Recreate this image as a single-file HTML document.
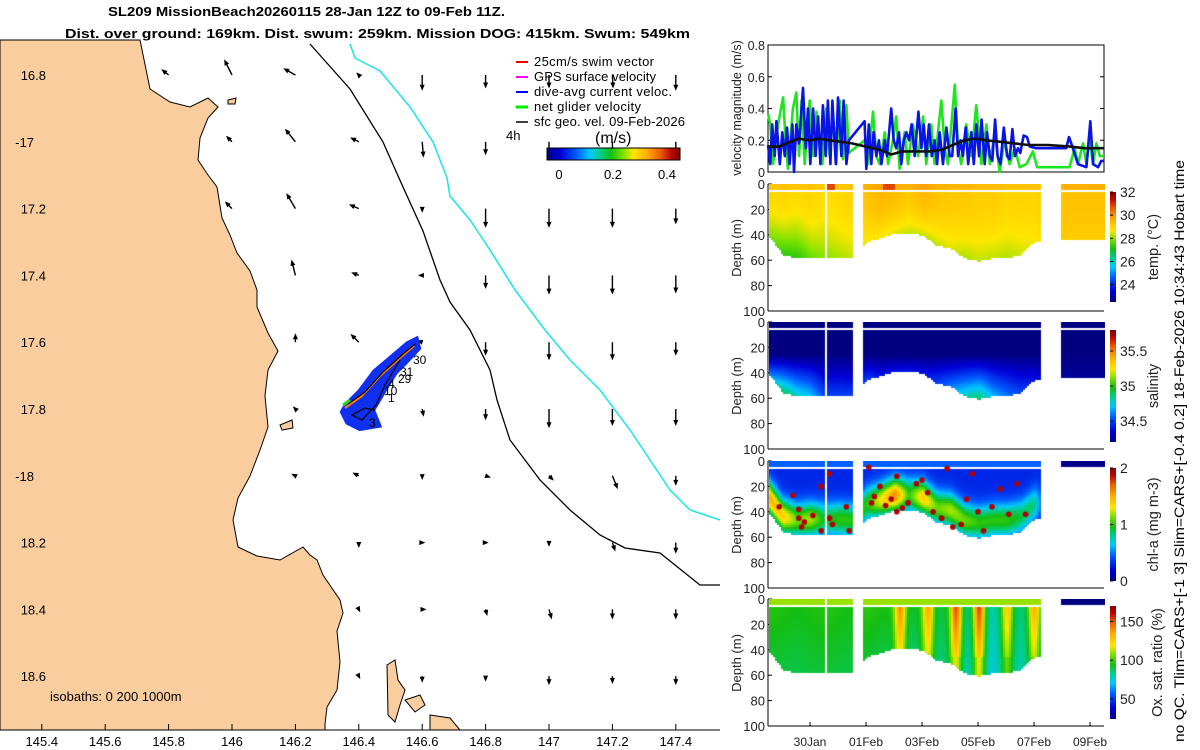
<!DOCTYPE html>
<html><head><meta charset="utf-8">
<style>
html,body{margin:0;padding:0;background:#fff;}
#wrap{position:relative;width:1200px;height:750px;overflow:hidden;font-family:"Liberation Sans","DejaVu Sans",sans-serif;}
svg{position:absolute;left:0;top:0;}
canvas{position:absolute;}
</style></head>
<body>
<div id="wrap">
<svg id="map" width="1200" height="750" font-family="Liberation Sans, DejaVu Sans, sans-serif">
  <rect x="0" y="40" width="720" height="690" fill="#fff"/>
  <path fill="#f9cd9e" stroke="#000" stroke-width="1"
   d="M0,40 L140,40 L150,89 L170,102 L190,107 L208,98 L218,107 L208,118 L200,138 L198,160 L208,175 L217,187 L222,218 L230,235 L237,253 L250,271 L257,290 L257,307 L268,333 L278,351 L268,370 L265,396 L268,427 L260,450 L250,476 L238,498 L233,520 L238,547 L257,556 L280,560 L303,547 L310,555 L317,560 L323,575 L340,600 L343,613 L337,631 L340,662 L337,690 L327,707 L325,724 L325,730 L0,730 Z"/>
  <path fill="#f9cd9e" stroke="#000" stroke-width="1"
   d="M387,665 L395,660 L398,680 L405,690 L400,705 L395,722 L388,715 Z M405,700 L420,695 L425,705 L415,712 Z M430,715 L450,718 L460,730 L430,730 Z M280,425 L292,420 L293,428 L282,430 Z M228,100 L236,98 L235,104 L228,104 Z"/>
  <polyline fill="none" stroke="#000" stroke-width="1.3"
   points="310,44 350,89 383,142 403,187 423,231 440,280 450,302 470,330 490,370 497,400 510,440 540,480 570,510 600,535 625,548 660,553 700,585 720,585"/>
  <polyline fill="none" stroke="#19e6e6" stroke-width="1.5"
   points="350,44 355,58 380,71 410,107 433,142 447,178 450,196 470,220 490,250 515,290 545,330 570,360 600,390 630,430 650,460 670,490 690,510 720,520"/>
  <g id="arrows"></g>
  <g>
    <path d="M347,405 L360,392 L375,372 L395,355 L408,344 L416,340 L418,348 L405,362 L395,372 L385,388 L378,400 L372,410 L378,425 L360,428 L348,422 L343,412 Z" fill="#1030f0" stroke="#1030f0" stroke-width="6"/>
    <polyline points="345,408 362,396 380,376 400,358 414,346" fill="none" stroke="#ff8000" stroke-width="2"/>
    <polyline points="348,404 365,392 383,372 403,354 415,344" fill="none" stroke="#000" stroke-width="1.2"/>
    <polyline points="400,360 385,385 376,405 362,420 352,415 365,408 375,410" fill="none" stroke="#000" stroke-width="1.2"/>
    <polyline points="343,405 350,400" fill="none" stroke="#2ad62a" stroke-width="3"/>
  </g>
  <g font-size="12" fill="#000">
    <text x="413" y="364">30</text><text x="400" y="376">31</text><text x="398" y="383">29</text>
    <text x="388" y="388">4</text><text x="384" y="395">10</text><text x="388" y="402">1</text><text x="369" y="427">3</text>
  </g>
  <g font-size="13" fill="#000">
    <line x1="516" y1="62" x2="528" y2="62" stroke="#e00" stroke-width="2"/><text x="534" y="66" textLength="120">25cm/s swim vector</text>
    <line x1="516" y1="77" x2="528" y2="77" stroke="#f0f" stroke-width="2"/><text x="534" y="81" textLength="122">GPS surface velocity</text>
    <line x1="516" y1="92" x2="528" y2="92" stroke="#00f" stroke-width="2"/><text x="534" y="96" textLength="138">dive-avg current veloc.</text>
    <line x1="516" y1="107" x2="528" y2="107" stroke="#0e0" stroke-width="3"/><text x="534" y="111" textLength="107">net glider velocity</text>
    <line x1="516" y1="122" x2="528" y2="122" stroke="#000" stroke-width="1.5"/><text x="534" y="126" textLength="151">sfc geo. vel. 09-Feb-2026</text>
    <text x="506" y="140" font-size="13">4h</text>
    <text x="595" y="143" font-size="16">(m/s)</text>
  </g>
  <defs>
    <linearGradient id="jetH" x1="0" x2="1" y1="0" y2="0"></linearGradient>
    <linearGradient id="jetV" x1="0" x2="0" y1="1" y2="0"></linearGradient>
  </defs>
  <g>
    <rect x="547" y="148" width="133" height="12" fill="url(#jetH)" stroke="#000" stroke-width="1"/>
    <g font-size="13" text-anchor="middle"><text x="559" y="179">0</text><text x="613" y="179">0.2</text><text x="667" y="179">0.4</text></g>
  </g>
  <text x="50" y="701" font-size="13">isobaths: 0   200  1000m</text>
  <g id="mapaxes" font-size="13" fill="#000">
    <line x1="0" y1="730" x2="720" y2="730" stroke="#000"/>
  </g>
  <g font-size="13" font-weight="bold">
    <text x="108" y="16" textLength="397" lengthAdjust="spacingAndGlyphs">SL209 MissionBeach20260115 28-Jan 12Z to 09-Feb 11Z.</text>
    <text x="65" y="38" textLength="625" lengthAdjust="spacingAndGlyphs">Dist. over ground: 169km. Dist. swum: 259km. Mission DOG: 415km. Swum: 549km</text>
  </g>
  <g id="right" font-size="13" fill="#222"></g>
  <text transform="translate(1184,451) rotate(-90)" text-anchor="middle" font-size="14" textLength="582" lengthAdjust="spacingAndGlyphs">no QC. Tlim=CARS+[-1 3] Slim=CARS+[-0.4 0.2] 18-Feb-2026 10:34:43 Hobart time</text>
</svg>
<canvas id="c0" width="336" height="128" style="left:769px;top:184px"></canvas>
<canvas id="c1" width="336" height="128" style="left:769px;top:322px"></canvas>
<canvas id="c2" width="336" height="128" style="left:769px;top:461px"></canvas>
<canvas id="c3" width="336" height="128" style="left:769px;top:599px"></canvas>
</div>
<script>
// ---------- map data ----------
const arrowLons = [145.8,146.0,146.2,146.4,146.6,146.8,147.0,147.2,147.4];
const arrowLats = [-16.8,-17.0,-17.2,-17.4,-17.6,-17.8,-18.0,-18.2,-18.4,-18.6];
const arrowU = [
 [-0.05,-0.06,-0.09,-0.01,0,0,0,0.005,0],
 [0,-0.04,-0.08,-0.06,0.01,0,0,0,0],
 [0,-0.05,-0.07,-0.07,0,0,0,0,0],
 [0,0,-0.03,-0.05,-0.02,0,0,0,0],
 [0,0,0,-0.06,-0.03,0,0,0,0],
 [0,0,-0.01,-0.01,0.01,0,0,0,0],
 [0,0,-0.02,-0.04,0,0.03,0.03,0.04,0],
 [0,0,0,0,0.01,0.01,0,0.02,0],
 [0,0,0,0.005,0.02,0.01,0.02,0,0],
 [0,0,0,0.005,0,0,0,0,0]];
const arrowV = [
 [0.04,0.12,0.05,0.01,-0.12,-0.1,-0.1,-0.1,-0.12],
 [0,0.04,0.1,0.03,-0.12,-0.1,-0.12,-0.12,-0.13],
 [0,0.05,0.12,0.03,-0.02,-0.15,-0.15,-0.15,-0.12],
 [0,0,0.12,0.02,0,-0.1,-0.15,-0.15,-0.14],
 [0,0,0.06,0.06,0.01,-0.1,-0.14,-0.14,-0.1],
 [0,0,0.01,0.01,-0.05,-0.08,-0.15,-0.13,-0.13],
 [0,0,0.01,0.02,-0.02,-0.01,-0.03,-0.1,-0.07],
 [0,0,0,-0.03,0,0,-0.02,-0.06,-0.08],
 [0,0,0,-0.01,0,-0.04,-0.07,-0.07,-0.07],
 [0,0,0,-0.01,-0.04,-0.03,-0.06,-0.05,-0.06]];
const lonTicks = [145.4,145.6,145.8,146,146.2,146.4,146.6,146.8,147,147.2,147.4];
const latTicks = [-16.8,-17,-17.2,-17.4,-17.6,-17.8,-18,-18.2,-18.4,-18.6];
const latTickLabels = ["16.8","-17","17.2","17.4","17.6","17.8","-18","18.2","18.4","18.6"];

// ---------- velocity data ----------
const blueDays = [0,.08,.15,.24,.30,.42,.51,.60,.68,.77,.87,.93,1.01,1.11,1.25,1.35,1.43,1.51,1.61,1.70,1.79,1.87,1.96,2.06,2.14,2.23,2.30,2.42,2.50,2.62,2.70,2.80,2.89,3.45,3.51,3.60,3.69,3.77,3.87,3.96,4.05,4.17,4.25,4.40,4.49,4.58,4.68,4.76,4.85,4.94,5.04,5.13,5.24,5.37,5.48,5.56,5.65,5.75,5.85,5.95,6.04,6.13,6.25,6.37,6.49,6.58,6.70,6.79,6.87,6.96,7.06,7.15,7.26,7.35,7.44,7.54,7.63,7.74,7.82,7.92,8.01,8.11,8.20,8.30,8.42,8.54,8.63,8.73,8.82,8.93,9.01,9.13,9.25,9.35,9.58,10.65,10.75,10.89,11.07,11.37,11.51,11.61,11.79,11.90,12.0];
const blueVals = [.17,.05,.3,.1,.32,.05,.25,.1,.28,.05,.3,0,.3,.18,.53,.15,.4,.05,.4,.1,.35,.05,.42,.1,.45,.05,.45,.05,.47,.1,.45,.05,.2,.32,.02,.3,.05,.25,.1,.2,.05,.2,.1,.4,.2,.15,.25,.05,.2,.25,.2,.3,.1,.38,.15,.3,.1,.3,.1,.2,.05,.25,.05,.28,.1,.1,.4,.1,.2,.1,.28,.05,.25,.05,.3,.1,.33,.05,.25,.1,.07,.33,.1,.05,.28,.1,.08,.27,.1,.15,.12,.23,.22,.16,.15,.15,.22,.15,.05,.03,.32,.05,.03,.07,.07];
const greenDays = [0,.08,.18,.36,.54,.63,.71,.89,1.01,1.11,1.2,1.31,1.49,1.61,1.73,1.85,1.94,2.08,2.2,2.32,2.44,2.56,2.68,2.80,2.89,3.45,3.57,3.75,3.87,3.99,4.17,4.29,4.46,4.58,4.70,4.88,5.0,5.18,5.36,5.54,5.65,5.83,5.95,6.07,6.19,6.31,6.43,6.55,6.67,6.79,6.9,7.08,7.26,7.44,7.62,7.8,7.92,8.1,8.27,8.45,8.63,8.81,8.99,9.23,9.46,9.61,10.77,10.95,11.07,11.25,11.37,11.49,11.61,11.73,11.85,12];
const greenVals = [.37,.3,.05,.3,.47,.2,.02,.4,.5,.1,.45,.05,.45,.1,.38,.15,.05,.4,.1,.35,.05,.45,.08,.42,.12,.2,.05,.38,.1,.05,.25,.05,.2,.35,.02,.25,.05,.3,.1,.35,.05,.3,.05,.25,.45,.15,.05,.3,.55,.15,.05,.3,.1,.42,.05,.3,.05,.25,0,.2,.05,.15,.03,.05,.13,.03,.03,.15,.05,.18,.05,.2,.05,.18,.1,.1];
const meanDays = [0,0.4,0.8,1.1,1.5,1.8,2.2,2.6,3.0,3.5,4.0,4.4,4.8,5.3,5.8,6.2,6.6,7.0,7.4,7.8,8.3,8.8,9.3,10,10.8,11.3,12];
const meanVals = [.16,.16,.19,.21,.2,.21,.2,.19,.18,.16,.14,.11,.13,.13,.13,.14,.17,.2,.21,.2,.19,.18,.17,.17,.16,.15,.15];

// ---------- section data ----------
const segStart = [0.03,2.07,3.36,10.4];
const segEnd   = [1.98,3.0,9.68,12.05];
const keyDays  = [0,0.5,1,1.5,2,2.5,3,3.5,4,4.5,5,5.5,6,6.5,7,7.5,8,8.5,9,9.5,10,10.5,11,11.5,12];
const bottomDepth = [40,55,58,57,57,57,58,45,42,38,38,40,48,50,58,60,58,58,55,45,43,44,44,44,44];
const tempTop = [28.9,29.0,28.9,29.0,28.8,28.9,29.0,29.3,29.5,29.4,29.2,29.5,29.3,29.2,29.2,29.1,29.1,29.0,29.0,29.0,29.1,29.3,29.3,29.3,29.3];
const tempBot = [28.0,27.3,27.2,27.8,28.0,28.2,28.3,28.6,28.6,28.5,28.3,28.3,28.3,28.5,28.2,28.3,28.3,28.2,28.4,28.6,29.0,29.1,29.1,29.1,29.1];
const salBot  = [34.6,34.9,34.8,34.7,34.5,34.5,34.5,34.5,34.4,34.4,34.4,34.4,34.5,34.6,34.8,34.9,34.7,34.6,34.5,34.4,34.25,34.25,34.25,34.25,34.25];
const chlPeak = [1.5,1.4,1.1,1.2,0.9,1.0,1.0,1.0,1.3,1.6,1.0,1.4,1.1,1.2,1.1,1.0,1.0,1.0,0.9,0.8,0,0,0,0,0];
const oxBase = [98,96,95,96,97,96,95,98,96,95,92,95,90,93,85,88,80,90,85,92,95,95,95,95,95];
const oxPeakDays = [4.68,5.68,6.68,7.5,8.5,9.46];
const oxPeakVals = [145,140,160,165,135,140];
const chlDotDays = [0.4,0.9,1.1,1.1,1.2,1.3,1.6,1.9,1.9,2.2,2.2,2.3,2.8,2.9,3.6,3.7,3.8,4.0,4.2,4.4,4.6,4.6,4.8,5.0,5.3,5.5,5.7,5.9,6.2,6.4,6.6,6.9,7.1,7.3,7.5,7.7,8.0,8.3,8.6,8.9,9.2];
const chlDotDepths = [36,27,38,45,52,48,43,20,55,10,45,50,36,55,5,33,28,20,35,30,40,12,37,33,18,15,25,40,45,6,52,50,30,10,40,55,36,22,42,18,42];

// ---------- colormap ----------
const cmapPos = [0,0.1,0.22,0.32,0.4,0.48,0.57,0.65,0.75,0.85,0.93,1];
const cmapCol = [[0,0,128],[0,0,215],[0,90,255],[0,200,255],[0,205,140],[20,190,20],[120,225,0],[255,230,0],[255,175,0],[235,95,0],[190,10,0],[128,0,0]];
function cmap(t){t=Math.max(0,Math.min(1,t));let i=0;while(i<cmapPos.length-2&&t>cmapPos[i+1])i++;
  const f=(t-cmapPos[i])/(cmapPos[i+1]-cmapPos[i]);return cmapCol[i].map((c,k)=>Math.round(c+(cmapCol[i+1][k]-c)*f));}
['jetH','jetV'].forEach(id=>{const g=document.getElementById(id);
  cmapPos.forEach((p,i)=>{const s=document.createElementNS('http://www.w3.org/2000/svg','stop');s.setAttribute('offset',p);s.setAttribute('stop-color',`rgb(${cmapCol[i].join(',')})`);g.appendChild(s);});});

// ---------- scales ----------
const lonX = lon => 232 + (lon-146)*317;
const latY = lat => 75 + (-16.8-lat)*334;
const dayX = d => 768 + d*28;
const velY = v => 172 - v/0.8*127;
const NS='http://www.w3.org/2000/svg';
function mk(tag, attrs, parent){const e=document.createElementNS(NS,tag);for(const k in attrs)e.setAttribute(k,attrs[k]);parent.appendChild(e);return e;}

// map arrows
const ag=document.getElementById('arrows');
for(let r=0;r<arrowLats.length;r++)for(let c=0;c<arrowLons.length;c++){
  const u=arrowU[r][c], v=arrowV[r][c];
  if(u===0&&v===0) continue;
  const x0=lonX(arrowLons[c]), y0=latY(arrowLats[r]);
  const x1=x0+u*115, y1=y0-v*115;
  const g=mk('g',{},ag);
  
  
  mk('line',{x1:x0,y1:y0,x2:x1,y2:y1,stroke:'#000','stroke-width':1.4},g);
  const L=Math.hypot(x1-x0,y1-y0)||1, ux=(x1-x0)/L, uy=(y1-y0)/L;
  mk('polygon',{points:`${x1+ux*2},${y1+uy*2} ${x1-ux*4-uy*2.5},${y1-uy*4+ux*2.5} ${x1-ux*4+uy*2.5},${y1-uy*4-ux*2.5}`,fill:'#000'},g);
}
// map axes
const ma=document.getElementById('mapaxes');
lonTicks.forEach(l=>{const x=lonX(l);
  const t=mk('line',{x1:x,y1:730,x2:x,y2:724,stroke:'#000'},ma);
  
  const tx=mk('text',{x:x,y:746,'text-anchor':'middle'},ma);tx.textContent=String(l);
  
});
latTicks.forEach((l,i)=>{const y=latY(l);
  const tx=mk('text',{x:latTickLabels[i].length>3?46:34,y:y+5,'text-anchor':'end'},ma);tx.textContent=latTickLabels[i];
  
});

// right panels
const R=document.getElementById('right');
const panels=[{y:184,c:'temp. (°C)',ticks:[32,30,28,26,24],lo:22.5,hi:32},
              {y:322,c:'salinity',ticks:[35.5,35,34.5],lo:34.2,hi:35.8},
              {y:461,c:'chl-a (mg m-3)',ticks:[2,1,0],lo:0,hi:2},
              {y:599,c:'Ox. sat. ratio (%)',ticks:[150,100,50],lo:24,hi:170}];
const vf=mk('rect',{x:768,y:45,width:336,height:127,fill:'none',stroke:'#000'},R);

[0,0.2,0.4,0.6,0.8].forEach(v=>{const y=velY(v);
  mk('line',{x1:768,y1:y,x2:772,y2:y,stroke:'#000'},R);mk('line',{x1:1100,y1:y,x2:1104,y2:y,stroke:'#000'},R);
  const t=mk('text',{x:765,y:y+5,'text-anchor':'end','font-size':'12.5'},R);t.textContent=v===0?'0':String(v);
  
});
const vyl=mk('text',{transform:'translate(741,108) rotate(-90)','text-anchor':'middle','font-size':'12.5'},R);vyl.textContent='velocity magnitude (m/s)';

function series(days,vals,color,w,name){
  const pts=days.map((d,i)=>dayX(d).toFixed(1)+','+velY(vals[i]).toFixed(1)).join(' ');
  const p=mk('polyline',{points:pts,fill:'none',stroke:color,'stroke-width':w,'stroke-linejoin':'round'},R);
  
}
series(greenDays,greenVals,'#1ee61e',2.6,'net-glider-velocity-line');
series(blueDays,blueVals,'#0a14e6',2.6,'dive-avg-current-line');
series(meanDays,meanVals,'#111',2.6,'mean-velocity-line');

panels.forEach((p,i)=>{
  const fr=mk('rect',{x:768,y:p.y,width:336,height:127,fill:'none',stroke:'none'},R);
  
  mk('line',{x1:768,y1:p.y,x2:768,y2:p.y+127,stroke:'#000'},R);
  mk('line',{x1:768,y1:p.y+127,x2:1104,y2:p.y+127,stroke:'#000'},R);
  [0,20,40,60,80,100].forEach(d=>{const y=p.y+d*1.27;
    mk('line',{x1:768,y1:y,x2:772,y2:y,stroke:'#000'},R);
    const t=mk('text',{x:765,y:y+5,'text-anchor':'end'},R);t.textContent=String(d);
    
  });
  const yl=mk('text',{transform:`translate(741,${p.y+64}) rotate(-90)`,'text-anchor':'middle','font-size':'13'},R);yl.textContent='Depth (m)';
  
  const cy0=p.y+(i===0?8:i===1?8:7), ch=(i===0?110:i===1?112:113);
  const cb=mk('rect',{x:1110,y:cy0,width:6,height:ch,fill:'url(#jetV)'},R);
  
  p.ticks.forEach(v=>{const y=cy0+ch*(p.hi-v)/(p.hi-p.lo);
    mk('line',{x1:1110,y1:y,x2:1113,y2:y,stroke:'#000'},R);
    const t=mk('text',{x:1120,y:y+5,'font-size':'14'},R);t.textContent=String(v);
    
  });
  const cl=mk('text',{transform:`translate(${i===3?1162:1158},${cy0+ch/2}) rotate(-90)`,'text-anchor':'middle','font-size':'14.5'},R);cl.textContent=p.c;
  
});
const dateTicks=[1.5,3.5,5.5,7.5,9.5,11.5], dateLabels=['30Jan','01Feb','03Feb','05Feb','07Feb','09Feb'];
dateTicks.forEach((d,i)=>{const x=dayX(d);
  mk('line',{x1:x,y1:726,x2:x,y2:722,stroke:'#000'},R);
  const t=mk('text',{x:x,y:746,'text-anchor':'middle','font-size':'12'},R);t.textContent=dateLabels[i];
  
});

function interp(arr,d){const i=Math.max(0,Math.min(keyDays.length-2,Math.floor(d/0.5)));const f=Math.max(0,Math.min(1,(d-keyDays[i])/0.5));return arr[i]*(1-f)+arr[i+1]*f;}
function segOf(d){for(let s=0;s<segStart.length;s++)if(d>=segStart[s]&&d<=segEnd[s])return s;return -1;}
function field(p,d,z,s){
  const bot=interp(bottomDepth,d);
  const surf=z<3.5;
  if(!surf && z<5) return null;
  if(!surf && z>bot) return null;
  if(p===0){ if(surf){let v=interp(tempTop,d)+0.3; if(Math.abs(d-4.3)<0.2||Math.abs(d-2.2)<0.15) v=30.8; return v;}
    const f=Math.pow(z/bot,2); return interp(tempTop,d)*(1-f)+interp(tempBot,d)*f; }
  if(p===1){ if(surf) return 34.2; const f=Math.max(0,(z-25)/(bot-25)); return 34.2*(1-f)+interp(salBot,d)*f; }
  if(p===2){ if(s===3){return z<6?0.02:null;} if(surf) return 0.45;
    const pk=interp(chlPeak,d); return 0.3+(pk-0.3)*Math.exp(-Math.pow((z-(bot-12))/13,2)); }
  if(p===3){ if(s===3){return z<6?24:null;} if(surf) return 110;
    let v=interp(oxBase,d)-6*(z/bot); oxPeakDays.forEach((pd,k)=>{v+=(oxPeakVals[k]-95)*Math.exp(-Math.pow((d-pd)/0.2,2))*(z<45?1-z/120:0.5);}); return v; }
}
panels.forEach((p,pi)=>{
  const cv=document.getElementById('c'+pi),ctx=cv.getContext('2d');
  for(let px=0;px<336;px+=2){const d=(px+1)/28; const s=segOf(d); if(s<0) continue;
    for(let py=0;py<128;py+=2){const z=py/1.27;
      const v=field(pi,d,z,s); if(v===null) continue;
      const c=cmap((v-p.lo)/(p.hi-p.lo)); ctx.fillStyle=`rgb(${c[0]},${c[1]},${c[2]})`; ctx.fillRect(px,py,2,2);}
  }
  if(pi===2){ctx.fillStyle='#b00000';
    chlDotDays.forEach((d,k)=>{ctx.beginPath();ctx.arc(dayX(d)-769,chlDotDepths[k]*1.27,2.8,0,7);ctx.fill();});}
});
</script>
</body></html>
